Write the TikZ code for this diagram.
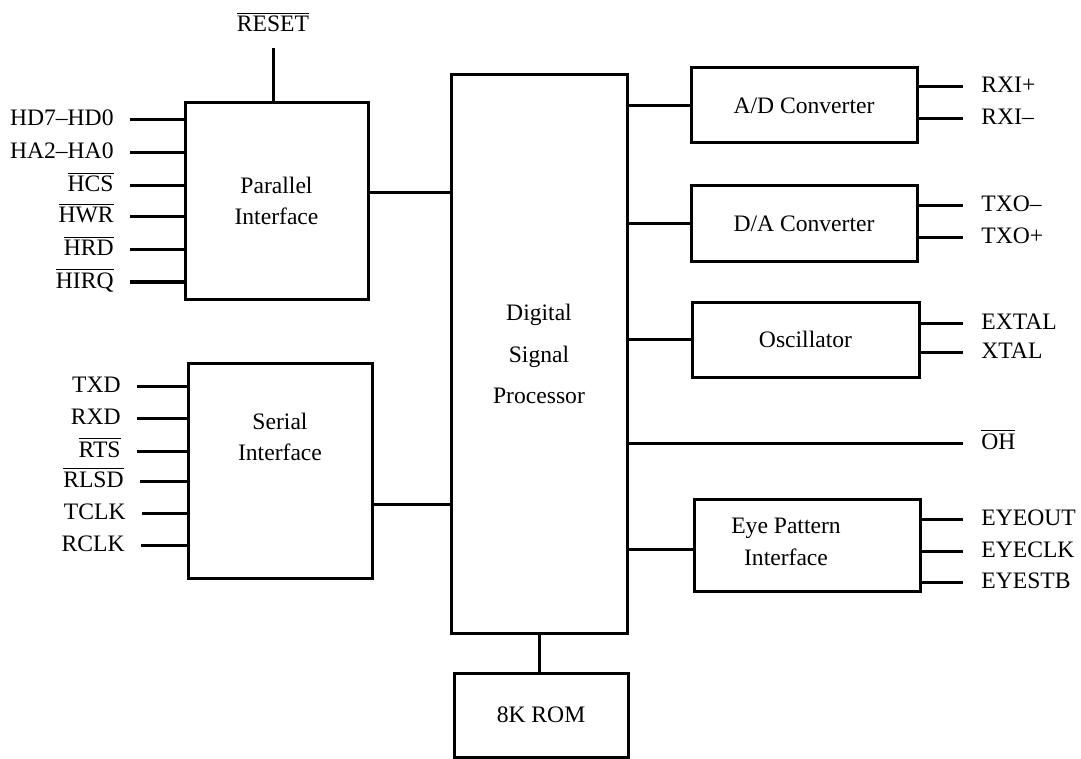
\documentclass[tikz,border=0pt]{standalone}
\usepackage{fontspec}
\setmainfont{Liberation Serif}
\usepackage{tikz}

\newcommand{\ovl}[1]{$\overline{\mbox{#1}}$}

\tikzset{
	blk/.style={draw, line width=1.5pt, inner sep=0pt, align=center},
	pinl/.style={anchor=east, inner xsep=8pt, text height=8pt, text depth=2pt},
	pinr/.style={anchor=west, inner xsep=9pt, text height=8pt, text depth=2pt},
	wire/.style={line width=1.5pt}
}

\begin{document}
\begin{tikzpicture}[x=0.5pt, y=-0.5pt, font=\fontsize{11.8}{15.8}\selectfont]
	\useasboundingbox (0,0) rectangle (1081,759);

	% blocks
	\node[blk, minimum width=91.5pt, minimum height=98pt] (par) at (276.5,201) {Parallel\\Interface};
	\node[blk, minimum width=92pt, minimum height=107.5pt] (ser) at (280,470.5) {};
	\node (sertxt) at (280,437) [align=center] {Serial\\Interface};
	\node[blk, minimum width=88pt, minimum height=279pt] (dsp) at (539,354) {Digital\\[5pt]Signal\\[5pt]Processor};
	\node[blk, minimum width=113pt, minimum height=37.5pt] (adc) at (804,105.5) {A/D Converter};
	\node[blk, minimum width=113pt, minimum height=38pt] (dac) at (804,224) {D/A Converter};
	\node[blk, minimum width=113.5pt, minimum height=37.5pt] (osc) at (805.5,339.5) {Oscillator};
	\node[blk, minimum width=113pt, minimum height=46pt] (eye) at (807,545) {};
	\node (eyetxt) at (786,542) [align=center] {Eye Pattern\\Interface};
	\node[blk, minimum width=87pt, minimum height=42pt] (rom) at (541,715) {8K ROM};

	% parallel pins
	\node[anchor=south, inner ysep=6pt, text depth=2pt] (rst) at (273,48) {\ovl{RESET}};
	\node[pinl] (hd) at (130,120) {HD7--HD0};
	\node[pinl] (ha) at (130,153) {HA2--HA0};
	\node[pinl] (hcs) at (130,186) {\ovl{HCS}};
	\node[pinl] (hwr) at (130,217) {\ovl{HWR}};
	\node[pinl] (hrd) at (130,250) {\ovl{HRD}};
	\node[pinl] (hirq) at (130,282) {\ovl{HIRQ}};

	% serial pins
	\node[pinl] (txd) at (137,386) {TXD};
	\node[pinl] (rxd) at (137,418) {RXD};
	\node[pinl] (rts) at (137,451) {\ovl{RTS}};
	\node[pinl] (rlsd) at (140,481) {\ovl{RLSD}};
	\node[pinl] (tclk) at (142,513) {TCLK};
	\node[pinl] (rclk) at (141,545) {RCLK};

	% right pins
	\node[pinr] (rxip) at (963,87) {RXI+};
	\node[pinr] (rxim) at (963,119) {RXI--};
	\node[pinr] (txom) at (963,206) {TXO--};
	\node[pinr] (txop) at (963,238) {TXO+};
	\node[pinr] (extal) at (963,323) {EXTAL};
	\node[pinr] (xtal) at (963,352) {XTAL};
	\node[pinr] (oh) at (963,443) {\ovl{OH}};
	\node[pinr] (eyeout) at (963,519) {EYEOUT};
	\node[pinr] (eyeclk) at (963,551) {EYECLK};
	\node[pinr] (eyestb) at (963,582) {EYESTB};

	\path [wire]
	(rst.south) edge (rst.south |- par.north)
	(hd.east) edge (hd.east -| par.west)
	(ha.east) edge (ha.east -| par.west)
	(hcs.east) edge (hcs.east -| par.west)
	(hwr.east) edge (hwr.east -| par.west)
	(hrd.east) edge (hrd.east -| par.west)
	(hirq.east) edge (hirq.east -| par.west)
	(txd.east) edge (txd.east -| ser.west)
	(rxd.east) edge (rxd.east -| ser.west)
	(rts.east) edge (rts.east -| ser.west)
	(rlsd.east) edge (rlsd.east -| ser.west)
	(tclk.east) edge (tclk.east -| ser.west)
	(rclk.east) edge (rclk.east -| ser.west)
	(par.east |- 0,193) edge (dsp.west |- 0,193)
	(ser.east |- 0,504) edge (dsp.west |- 0,504)
	(dsp.east |- adc.west) edge (adc.west)
	(dsp.east |- dac.west) edge (dac.west)
	(dsp.east |- osc.west) edge (osc.west)
	(dsp.east |- 0,549) edge (eye.west |- 0,549)
	(dsp.east |- oh.west) edge (oh.west)
	(dsp.south -| 539,0) edge (rom.north -| 539,0)
	(adc.east |- rxip.west) edge (rxip.west)
	(adc.east |- rxim.west) edge (rxim.west)
	(dac.east |- txom.west) edge (txom.west)
	(dac.east |- txop.west) edge (txop.west)
	(osc.east |- extal.west) edge (extal.west)
	(osc.east |- xtal.west) edge (xtal.west)
	(eye.east |- eyeout.west) edge (eyeout.west)
	(eye.east |- eyeclk.west) edge (eyeclk.west)
	(eye.east |- eyestb.west) edge (eyestb.west);
\end{tikzpicture}
\end{document}
